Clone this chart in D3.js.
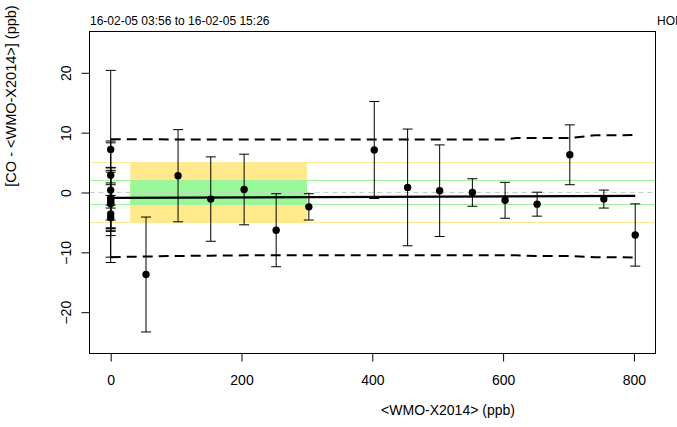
<!DOCTYPE html>
<html>
<head>
<meta charset="utf-8">
<script src="https://cdn.jsdelivr.net/npm/d3@7/dist/d3.min.js"></script>
<style>
  html, body { margin: 0; padding: 0; background: #fff; }
  svg { display: block; font-family: "Liberation Sans", Arial, Helvetica, sans-serif; }
</style>
</head>
<body>
<svg id="chart" width="677" height="427"></svg>
<script>
// Reference values (<WMO-X2014>, ppb), differences and their uncertainties
const refValues = [0, 0, 0, 0, 0, 0, 0, 0, 0, 0,
                   54, 103, 153, 204, 253, 303, 403, 454, 503, 553, 603, 652, 702, 754, 802];
const diffValues = [7.2, 2.9, 0.4, -0.9, -1.1, -1.4, -1.7, -1.9, -3.6, -4.2,
                    -13.7, 2.8, -1.1, 0.5, -6.3, -2.4, 7.1, 0.85, 0.3, 0.0, -1.3, -1.95, 6.3, -1.1, -7.1];
const uncValues = [13.2, 1.3, 0.9, 5.0, 9.7, 5.1, 10.0, 5.3, 1.0, 2.1,
                   9.6, 7.7, 7.05, 5.9, 6.1, 2.2, 8.1, 9.75, 7.65, 2.3, 3.0, 2.0, 5.0, 1.5, 5.2];

// Fitted difference line and its band
const fitX = [0, 802];
const fitY = [-0.9, -0.55];
const bandX = [0, 54, 103, 153, 204, 253, 303, 403, 454, 503, 553, 603, 620, 652, 702, 740, 754, 802];
const bandUpper = [8.9, 8.9, 8.85, 8.85, 8.85, 8.85, 8.85, 8.85, 8.85, 8.85, 8.85, 8.85, 9.1, 9.1, 9.1, 9.55, 9.55, 9.6];
const bandLower = [-10.8, -10.7, -10.6, -10.55, -10.5, -10.5, -10.5, -10.5, -10.5, -10.5, -10.5, -10.5, -10.5, -10.6, -10.6, -10.8, -10.8, -10.85];

// Compatibility goals and the range they apply to
const goalInner = 2;
const goalOuter = 5;
const goalRange = [30, 300];

const xTicks = [0, 200, 400, 600, 800];
const yTicks = [-20, -10, 0, 10, 20];

const titleLeft = "16-02-05 03:56 to 16-02-05 15:26";
const titleRight = "HOI";
const xLabel = "<WMO-X2014> (ppb)";
const yLabel = "[CO - <WMO-X2014>] (ppb)";

const svg = d3.select("#chart");
const box = { left: 89.5, right: 655.5, top: 31.5, bottom: 353.5 };

const x = d3.scaleLinear().domain([-32.4, 833]).range([box.left, box.right]);
const y = d3.scaleLinear().domain([-26.9, 26.9]).range([box.bottom, box.top]);

const yellow = "#ffe98a";
const green = "#98f898";

// goal areas
svg.append("rect")
  .attr("x", x(goalRange[0])).attr("width", x(goalRange[1]) - x(goalRange[0]))
  .attr("y", y(goalOuter)).attr("height", y(-goalOuter) - y(goalOuter))
  .attr("fill", yellow);
svg.append("rect")
  .attr("x", x(goalRange[0])).attr("width", x(goalRange[1]) - x(goalRange[0]))
  .attr("y", y(goalInner)).attr("height", y(-goalInner) - y(goalInner))
  .attr("fill", green);

// goal lines across the whole panel
[goalOuter, -goalOuter].forEach(v => {
  svg.append("line").attr("x1", box.left).attr("x2", box.right)
    .attr("y1", y(v)).attr("y2", y(v))
    .attr("stroke", "#ffe890").attr("stroke-width", 1);
});
[goalInner, -goalInner].forEach(v => {
  svg.append("line").attr("x1", box.left).attr("x2", box.right)
    .attr("y1", y(v)).attr("y2", y(v))
    .attr("stroke", "#9ef09e").attr("stroke-width", 1);
});
svg.append("line").attr("x1", box.left).attr("x2", box.right)
  .attr("y1", y(0)).attr("y2", y(0))
  .attr("stroke", "#cccccc").attr("stroke-width", 1).attr("stroke-dasharray", "5,4");

// band
const bandLine = d3.line().x(d => x(d[0])).y(d => y(d[1]));
[bandUpper, bandLower].forEach(arr => {
  svg.append("path")
    .attr("d", bandLine(bandX.map((v, i) => [v, arr[i]])))
    .attr("fill", "none").attr("stroke", "#000").attr("stroke-width", 2)
    .attr("stroke-dasharray", "10,6");
});

// fit
svg.append("path")
  .attr("d", bandLine(fitX.map((v, i) => [v, fitY[i]])))
  .attr("fill", "none").attr("stroke", "#000").attr("stroke-width", 2.2);

// error bars
const capHalf = 5;
const bars = svg.append("g").attr("stroke", "#000").attr("stroke-width", 1);
refValues.forEach((xv, i) => {
  const cx = x(xv);
  const top = y(diffValues[i] + uncValues[i]);
  const bot = y(diffValues[i] - uncValues[i]);
  bars.append("line").attr("x1", cx).attr("x2", cx).attr("y1", top).attr("y2", bot);
  bars.append("line").attr("x1", cx - capHalf).attr("x2", cx + capHalf).attr("y1", top).attr("y2", top);
  bars.append("line").attr("x1", cx - capHalf).attr("x2", cx + capHalf).attr("y1", bot).attr("y2", bot);
});

// points
svg.append("g").selectAll("circle")
  .data(refValues.map((v, i) => [v, diffValues[i]]))
  .join("circle")
  .attr("cx", d => x(d[0])).attr("cy", d => y(d[1])).attr("r", 3.7)
  .attr("fill", "#000");

// panel box
svg.append("rect")
  .attr("x", box.left).attr("y", box.top)
  .attr("width", box.right - box.left).attr("height", box.bottom - box.top)
  .attr("fill", "none").attr("stroke", "#000").attr("stroke-width", 1);

// axes
const xAxis = svg.append("g")
  .attr("transform", `translate(0,${box.bottom})`)
  .call(d3.axisBottom(x).tickValues(xTicks).tickSize(8).tickPadding(14).tickFormat(d3.format("d")));
xAxis.select(".domain").remove();
xAxis.selectAll("text").attr("font-size", 14).attr("font-family", "Liberation Sans, Arial, sans-serif").attr("fill", "#000");

const yAxis = svg.append("g")
  .attr("transform", `translate(${box.left},0)`)
  .call(d3.axisLeft(y).tickValues(yTicks).tickSize(8).tickFormat(d3.format("d")));
yAxis.select(".domain").remove();
yAxis.selectAll("text")
  .attr("font-size", 14).attr("font-family", "Liberation Sans, Arial, sans-serif").attr("fill", "#000")
  .attr("text-anchor", "middle").attr("x", null)
  .attr("transform", "translate(-23,0) rotate(-90)")
  .attr("dy", "0.35em");

// titles
svg.append("text").attr("x", 90).attr("y", 25)
  .attr("font-size", 12).text(titleLeft);
svg.append("text").attr("x", 657).attr("y", 25)
  .attr("font-size", 12).text(titleRight);
svg.append("text").attr("x", 448).attr("y", 415)
  .attr("text-anchor", "middle").attr("font-size", 14).text(xLabel);
svg.append("text")
  .attr("transform", "translate(16,96) rotate(-90)")
  .attr("text-anchor", "middle").attr("font-size", 14.5).text(yLabel);
</script>
</body>
</html>
